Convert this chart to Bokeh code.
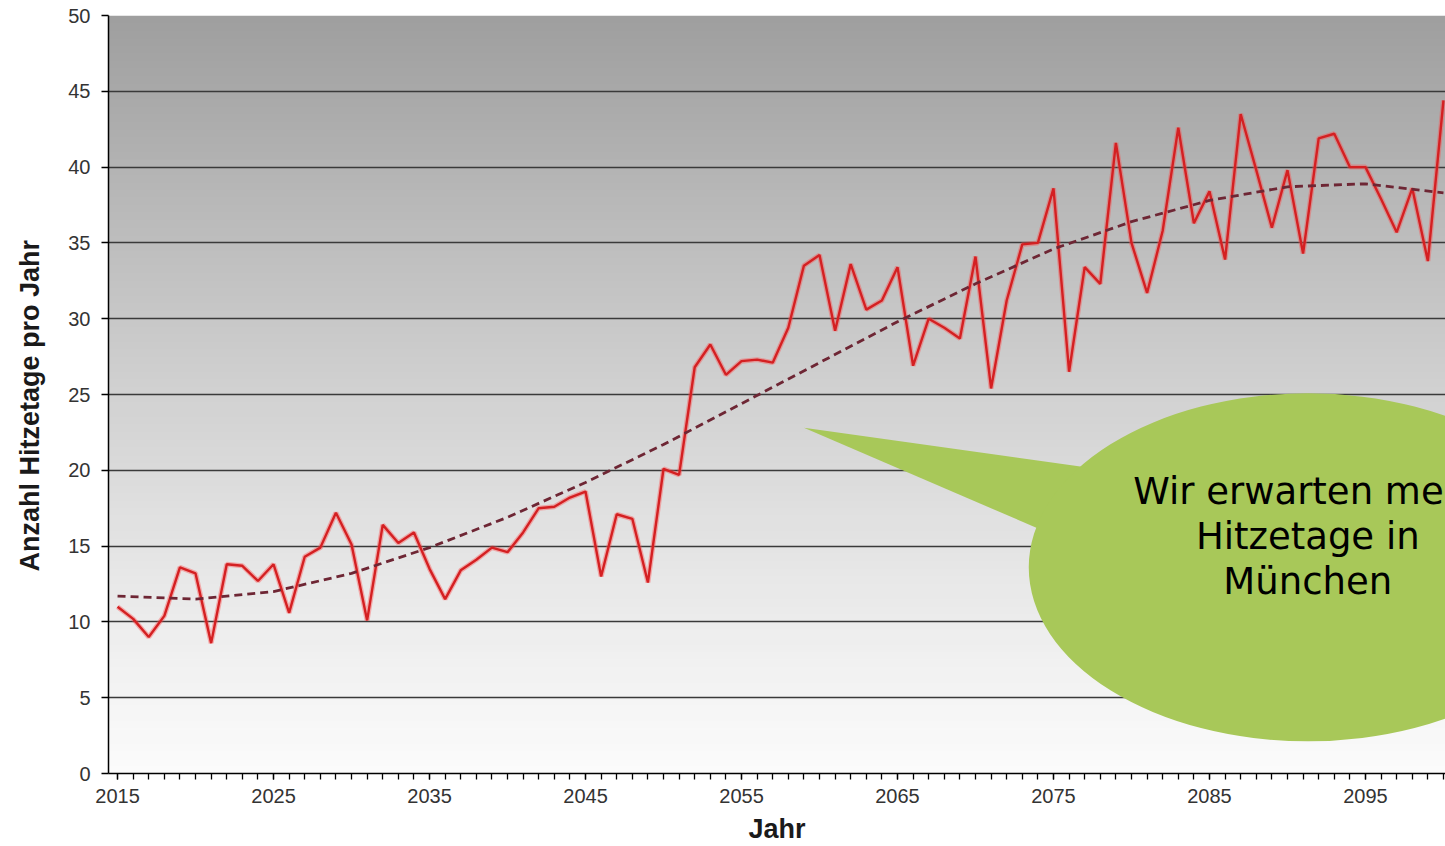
from bokeh.plotting import figure
from bokeh.models import FixedTicker, Range1d
from bokeh.core.properties import value
from bokeh.embed import file_html
from bokeh.resources import INLINE

# Annual number of hot days (Hitzetage) in Munich, projection 2015-2100
years = list(range(2015, 2101))
hitzetage = [
    11.0, 10.2, 9.0, 10.4, 13.6, 13.2, 8.6, 13.8, 13.7, 12.7,   # 2015-2024
    13.8, 10.6, 14.3, 14.9, 17.2, 15.1, 10.1, 16.4, 15.2, 15.9,  # 2025-2034
    13.5, 11.5, 13.4, 14.1, 14.9, 14.6, 15.9, 17.5, 17.6, 18.2,  # 2035-2044
    18.6, 13.0, 17.1, 16.8, 12.6, 20.1, 19.7, 26.8, 28.3, 26.3,  # 2045-2054
    27.2, 27.3, 27.1, 29.4, 33.5, 34.2, 29.2, 33.6, 30.6, 31.2,  # 2055-2064
    33.4, 26.9, 30.0, 29.4, 28.7, 34.1, 25.4, 31.2, 34.9, 35.0,  # 2065-2074
    38.6, 26.5, 33.4, 32.3, 41.6, 35.0, 31.7, 35.8, 42.6, 36.3,  # 2075-2084
    38.4, 33.9, 43.5, 39.8, 36.0, 39.8, 34.3, 41.9, 42.2, 40.0,  # 2085-2094
    40.0, 37.9, 35.7, 38.6, 33.8, 44.4,                          # 2095-2100
]

# Smoothed trend of the series
trend_years = list(range(2015, 2101, 5))
trend_values = [11.7, 11.5, 12.0, 13.2, 14.9, 16.9, 19.2, 21.7, 24.4,
                27.1, 29.8, 32.3, 34.6, 36.4, 37.8, 38.7, 38.9, 38.3]

x_tick_years = list(range(2015, 2100, 10))
y_ticks = list(range(0, 51, 5))

callout_lines = ["Wir erwarten mehr", "Hitzetage in", "München"]

# Callout placement (data units) and size (screen px)
CALLOUT_X, CALLOUT_Y = 2091.3, 13.6
CALLOUT_W, CALLOUT_H = 558, 348
CALLOUT_TAIL_X = [2059.0, 2081.2, 2078.0]
CALLOUT_TAIL_Y = [22.8, 19.6, 14.4]
CALLOUT_TEXT_Y = [18.58, 15.62, 12.66]
CALLOUT_COLOR = "#a8c859"

p = figure(
    width=1445, height=846,
    x_range=Range1d(2014.42, 2100.13), y_range=Range1d(0, 50),
    output_backend="svg", toolbar_location=None,
    min_border_left=108, min_border_right=0,
    min_border_top=15, min_border_bottom=72,
)
p.outline_line_color = None
p.background_fill_color = "white"
p.border_fill_color = "white"

# Vertical grey gradient behind the plot (overlapping bands avoid seams)
n_bands = 100
band_bottom, band_top, band_color = [], [], []
for i in range(n_bands):
    b = 50.0 * i / n_bands
    t = 50.0 * (i + 1) / n_bands
    m = (b + t) / 2.0
    g = int(round(251 - 93 * (m / 50.0) ** 1.15))
    band_bottom.append(b)
    band_top.append(min(t + 0.3, 50.0))
    band_color.append("#%02x%02x%02x" % (g, g, g))
p.quad(left=2014.0, right=2101.0, bottom=band_bottom, top=band_top,
       fill_color=band_color, line_color=None, level="image")

# Grid
p.xgrid.visible = False
p.ygrid.ticker = FixedTicker(ticks=y_ticks[1:-1])
p.ygrid.grid_line_color = "#3a3a3a"
p.ygrid.grid_line_width = 1.7
p.ygrid.level = "underlay"

# Series and trend
p.line(years, hitzetage, line_color="#ff4a4a", line_width=5, line_alpha=0.4)
p.line(years, hitzetage, line_color="#d42022", line_width=2.4)
p.line(trend_years, trend_values, line_color="#6e2634", line_width=2.8,
       line_dash="8 5")

# Speech-bubble callout
p.patch(CALLOUT_TAIL_X, CALLOUT_TAIL_Y, fill_color=CALLOUT_COLOR, line_color=None)
p.ellipse(x=[CALLOUT_X], y=[CALLOUT_Y], width=CALLOUT_W, height=CALLOUT_H,
          width_units="screen", height_units="screen",
          fill_color=CALLOUT_COLOR, line_color=None)
p.text(x=[CALLOUT_X] * 3, y=CALLOUT_TEXT_Y, text=callout_lines,
       text_font=value("DejaVu Sans"), text_font_size="37px",
       text_align="center", text_baseline="alphabetic", text_color="black")

# Axes
tick_font = "Liberation Sans"
p.yaxis.ticker = FixedTicker(ticks=y_ticks)
p.yaxis.major_tick_out = 7
p.yaxis.major_tick_in = 0
p.yaxis.minor_tick_out = 0
p.yaxis.major_label_standoff = 11
p.yaxis.axis_label = "Anzahl  Hitzetage  pro  Jahr"
p.yaxis.axis_label_standoff = 20

p.xaxis.ticker = FixedTicker(ticks=x_tick_years, minor_ticks=years)
p.xaxis.major_tick_out = 6
p.xaxis.major_tick_in = 0
p.xaxis.minor_tick_out = 6
p.xaxis.minor_tick_in = 0
p.xaxis.major_label_standoff = 9
p.xaxis.axis_label = "Jahr"
p.xaxis.axis_label_standoff = 8

for ax in (p.xaxis[0], p.yaxis[0]):
    ax.axis_line_color = "black"
    ax.axis_line_width = 1.5
    ax.major_tick_line_color = "black"
    ax.minor_tick_line_color = "black"
    ax.major_tick_line_width = 1.3
    ax.minor_tick_line_width = 1.3
    ax.major_label_text_font = tick_font
    ax.major_label_text_font_size = "20px"
    ax.major_label_text_color = "#333333"
    ax.axis_label_text_font = tick_font
    ax.axis_label_text_font_style = "bold"
    ax.axis_label_text_font_size = "27px"
    ax.axis_label_text_color = "#1a1a1a"

open("out.html", "w").write(file_html(p, INLINE))
